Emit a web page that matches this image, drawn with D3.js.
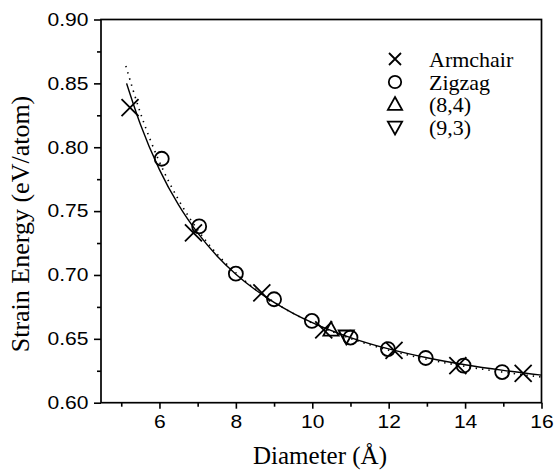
<!DOCTYPE html>
<html>
<head>
<meta charset="utf-8">
<script src="https://cdn.jsdelivr.net/npm/d3@7"></script>
<style>
  body { margin: 0; background: #fff; }
  svg { display: block; }
</style>
</head>
<body>
<div id="chart"></div>
<script>
// data
var armchairD = [5.23, 6.89, 8.68, 10.3, 12.14, 13.81, 15.52];
var armchairE = [0.831, 0.733, 0.686, 0.657, 0.641, 0.629, 0.623];

var zigzagD = [6.06, 7.04, 8.0, 9.0, 9.99, 11.0, 11.98, 12.97, 13.96, 14.97];
var zigzagE = [0.791, 0.738, 0.701, 0.681, 0.664, 0.651, 0.642, 0.635, 0.629, 0.624];

var chiral84D = [10.49];
var chiral84E = [0.657];
var chiral93D = [10.89];
var chiral93E = [0.652];

// fitted curves (solid and dotted)
var fitD = [5.14, 5.5, 6, 6.5, 7, 7.5, 8, 8.5, 9, 9.5, 10, 11, 12, 13, 14, 15, 16];
var fitE = [0.850, 0.818, 0.7825, 0.7548, 0.7329, 0.7151, 0.7006, 0.6886, 0.6785, 0.670, 0.6627, 0.651, 0.6421, 0.6352, 0.6297, 0.6253, 0.6216];
var dotD = [5.12, 5.5, 6, 6.5, 7, 7.5, 8, 9, 10, 11, 12, 13, 14, 15, 16];
var dotE = [0.8636, 0.827, 0.7885, 0.7588, 0.7354, 0.7166, 0.7016, 0.6787, 0.6624, 0.6503, 0.6411, 0.634, 0.6284, 0.6239, 0.6201];

var xTicks = [6, 8, 10, 12, 14, 16];
var xMinor = [5, 7, 9, 11, 13, 15];
var yTicks = [0.60, 0.65, 0.70, 0.75, 0.80, 0.85, 0.90];
var yMinor = [0.625, 0.675, 0.725, 0.775, 0.825, 0.875];

var legendNames = ["Armchair", "Zigzag", "(8,4)", "(9,3)"];

var w = 556, h = 470;
var pLeft = 101, pRight = 541.5, pTop = 19.5, pBottom = 402.7;
var stretch = 1.17; // tick labels in the figure are wider than Arial

var x = d3.scaleLinear().domain([4.47, 16]).range([pLeft, pRight]);
var y = d3.scaleLinear().domain([0.60, 0.90]).range([pBottom, pTop]);

var svg = d3.select("#chart")
  .append("svg")
  .attr("width", w)
  .attr("height", h)

function zip(a, b) { return a.map(function(v, i) { return {d: v, e: b[i]}; }); }

var line = d3.line()
  .x(function(p) { return x(p.d); })
  .y(function(p) { return y(p.e); })
  .curve(d3.curveMonotoneX)

svg.append("path")
  .datum(zip(fitD, fitE))
  .attr("d", line)
  .attr("fill", "none")
  .attr("stroke", "#000")
  .attr("stroke-width", 1.4)

svg.append("path")
  .datum(zip(dotD, dotE))
  .attr("d", line)
  .attr("fill", "none")
  .attr("stroke", "#000")
  .attr("stroke-width", 1.6)
  .attr("stroke-dasharray", "1.4,5")

// axes
var xAxis = svg.append("g")
  .attr("transform", "translate(0," + pBottom + ")")
  .call(d3.axisBottom(x).tickValues(xTicks).tickSize(6).tickPadding(7).tickFormat(d3.format("d")))
svg.append("g")
  .attr("transform", "translate(0," + pBottom + ")")
  .call(d3.axisBottom(x).tickValues(xMinor).tickSize(4).tickFormat(""))
var yAxis = svg.append("g")
  .attr("transform", "translate(" + pLeft + ",0)")
  .call(d3.axisLeft(y).tickValues(yTicks).tickSize(7).tickPadding(5).tickFormat(d3.format(".2f")))
svg.append("g")
  .attr("transform", "translate(" + pLeft + ",0)")
  .call(d3.axisLeft(y).tickValues(yMinor).tickSize(4).tickFormat(""))

svg.selectAll(".domain").remove()
svg.selectAll(".tick line").attr("stroke", "#000").attr("stroke-width", 1.6)
svg.selectAll(".tick text")
  .attr("fill", "#000")
  .style("font-family", "'Liberation Sans', Arial, sans-serif")
  .style("font-size", "18px")
  .attr("transform", "scale(" + stretch + ",1)")
yAxis.selectAll(".tick text").attr("x", -12.5 / stretch)

// frame
svg.append("rect")
  .attr("x", pLeft)
  .attr("y", pTop)
  .attr("width", pRight - pLeft)
  .attr("height", pBottom - pTop)
  .attr("fill", "none")
  .attr("stroke", "#000")
  .attr("stroke-width", 1.7)

// markers
var crossPath = function(s) {
  return "M" + (-s) + "," + (-s) + "L" + s + "," + s + "M" + (-s) + "," + s + "L" + s + "," + (-s);
}
var triUp = function(s) {
  return "M0," + (-s) + "L" + (s * 0.95) + "," + (s * 0.72) + "L" + (-s * 0.95) + "," + (s * 0.72) + "Z";
}
var triDown = function(s) {
  return "M0," + s + "L" + (s * 0.95) + "," + (-s * 0.72) + "L" + (-s * 0.95) + "," + (-s * 0.72) + "Z";
}

svg.selectAll(".zig")
  .data(zip(zigzagD, zigzagE))
  .enter().append("circle")
  .attr("class", "zig")
  .attr("cx", function(p) { return x(p.d); })
  .attr("cy", function(p) { return y(p.e); })
  .attr("r", 7)
  .attr("fill", "none")
  .attr("stroke", "#000")
  .attr("stroke-width", 1.8)

svg.selectAll(".arm")
  .data(zip(armchairD, armchairE))
  .enter().append("path")
  .attr("class", "arm")
  .attr("transform", function(p) { return "translate(" + x(p.d) + "," + y(p.e) + ")"; })
  .attr("d", crossPath(8.5))
  .attr("stroke", "#000")
  .attr("stroke-width", 1.8)

svg.selectAll(".t84")
  .data(zip(chiral84D, chiral84E))
  .enter().append("path")
  .attr("class", "t84")
  .attr("transform", function(p) { return "translate(" + x(p.d) + "," + y(p.e) + ")"; })
  .attr("d", triUp(8))
  .attr("fill", "none")
  .attr("stroke", "#000")
  .attr("stroke-width", 1.8)

svg.selectAll(".t93")
  .data(zip(chiral93D, chiral93E))
  .enter().append("path")
  .attr("class", "t93")
  .attr("transform", function(p) { return "translate(" + x(p.d) + "," + y(p.e) + ")"; })
  .attr("d", triDown(8))
  .attr("fill", "none")
  .attr("stroke", "#000")
  .attr("stroke-width", 1.8)

// legend
var legY = [59, 82, 104.5, 127];
var leg = svg.append("g")
legendNames.forEach(function(name, i) {
  var g = leg.append("g").attr("transform", "translate(395," + legY[i] + ")")
  if (i == 0) {
    g.append("path").attr("d", crossPath(6)).attr("stroke", "#000").attr("stroke-width", 1.8)
  } else if (i == 1) {
    g.append("circle").attr("r", 6.2).attr("fill", "none").attr("stroke", "#000").attr("stroke-width", 1.8)
  } else if (i == 2) {
    g.append("path").attr("d", triUp(7.5)).attr("fill", "none").attr("stroke", "#000").attr("stroke-width", 1.8)
  } else {
    g.append("path").attr("d", triDown(7.5)).attr("fill", "none").attr("stroke", "#000").attr("stroke-width", 1.8)
  }
  g.append("text")
    .attr("x", 34)
    .attr("y", 7.5)
    .text(name)
    .style("font-family", "'Liberation Serif', 'Times New Roman', serif")
    .style("font-size", "22px")
})

// axis titles
svg.append("text")
  .attr("x", 320)
  .attr("y", 464)
  .attr("text-anchor", "middle")
  .text("Diameter (Å)")
  .style("font-family", "'Liberation Serif', 'Times New Roman', serif")
  .style("font-size", "25px")

svg.append("text")
  .attr("transform", "translate(29,224) rotate(-90)")
  .attr("text-anchor", "middle")
  .text("Strain Energy (eV/atom)")
  .style("font-family", "'Liberation Serif', 'Times New Roman', serif")
  .style("font-size", "26px")
</script>
</body>
</html>
